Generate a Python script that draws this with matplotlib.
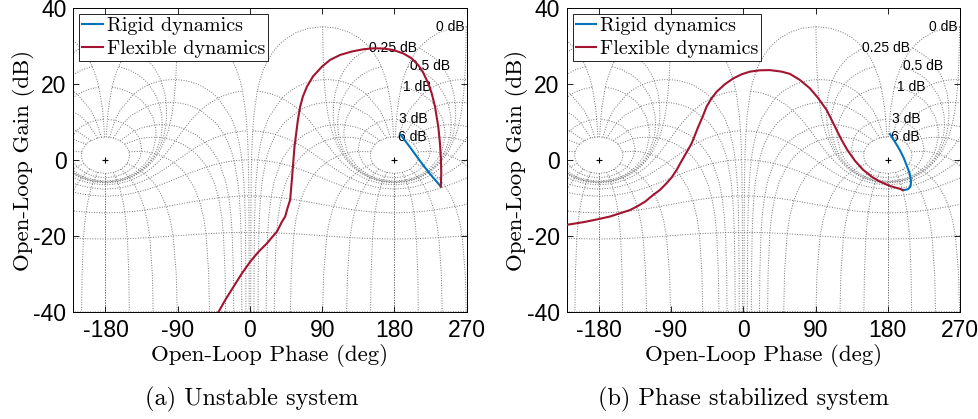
import numpy as np
import matplotlib
matplotlib.use("Agg")
import matplotlib.pyplot as plt
from matplotlib.lines import Line2D

plt.rcParams["axes.unicode_minus"] = False

SERIF = "cmr10"
SANS = "Liberation Sans"
COL_RIGID = "#0072BD"
COL_FLEX = "#A2142F"
GRID_COL = "0.45"

# open-loop phase (deg) / gain (dB) samples of each response
unstable_flex_phase = [-39.0, -30.7, -20.4, -10.0, 0.4, 10.7, 21.1, 27.4, 33.6, 39.8,
                       43.9, 46.8, 50.1, 52.2, 54.2, 55.5, 57.6, 59.7, 62.6, 65.9,
                       70.9, 78.4, 89.6, 99.9, 112.3, 126.9, 141.3, 153.7, 166.2, 178.6,
                       191.0, 201.5, 209.7, 215.2, 222.1, 226.4, 230.5, 234.6, 236.7,
                       238.0, 238.3, 237.8]
unstable_flex_gain = [-40.0, -36.9, -33.4, -29.9, -26.8, -24.2, -22.0, -20.4, -18.9, -16.3,
                      -14.9, -12.7, -10.5, -5.3, 0.0, 3.5, 7.0, 10.5, 14.1, 16.7,
                      19.3, 22.0, 24.6, 26.4, 27.7, 28.6, 29.2, 29.45, 29.4, 29.0,
                      28.1, 26.8, 25.0, 23.3, 20.2, 17.6, 14.1, 8.8, 4.4,
                      0.0, -3.5, -7.0]
unstable_rigid_phase = [187.0, 200.0, 212.0, 224.0, 237.8]
unstable_rigid_gain = [6.85, 3.2, -0.3, -3.6, -7.0]

stable_flex_phase = [-220.0, -199.2, -180.6, -166.0, -153.5, -141.1, -132.8, -122.4, -112.1,
                     -103.8, -95.4, -89.2, -82.9, -78.0, -72.6, -68.5, -64.3, -60.1, -56.0,
                     -50.6, -45.6, -39.4, -33.1, -22.8, -12.5, -2.0, 8.3, 20.8, 33.2,
                     47.8, 58.2, 70.6, 83.0, 93.4, 103.8, 110.1, 116.3, 122.5, 129.5,
                     139.1, 149.4, 159.9, 170.2, 182.7, 195.1, 198.5]
stable_flex_gain = [-17.1, -16.4, -15.6, -14.9, -14.05, -13.2, -12.3, -11.0, -9.2,
                    -7.9, -6.1, -4.6, -2.6, -0.7, 1.3, 2.8, 4.4, 6.6, 8.8,
                    11.4, 14.1, 16.3, 18.0, 20.0, 21.5, 22.6, 23.3, 23.65, 23.7,
                    23.3, 22.7, 21.1, 18.9, 16.3, 13.2, 10.55, 7.9, 5.3, 2.7,
                    -0.2, -2.6, -4.4, -5.7, -6.85, -7.6, -7.9]
stable_rigid_phase = [182.7, 188.9, 195.1, 200.1, 204.2, 207.2, 208.8, 208.8, 207.6,
                      205.5, 201.4, 198.5]
stable_rigid_gain = [6.86, 4.8, 2.6, 0.45, -1.8, -3.5, -5.3, -6.3, -7.2,
                     -7.65, -7.9, -7.9]

# Nichols chart grid values (closed-loop phase and magnitude)
iso_phase = [1, 5, 10, 20, 30, 50, 90, 120, 150, 180]
iso_phase_gains = [6, 3, 2, 1, .75, .5, .4, .3, .25, .2, .15, .1, .05, 0, -.05, -.1, -.15,
                   -.2, -.25, -.3, -.4, -.5, -.75, -1, -2, -3, -4, -5, -6, -9, -12, -16,
                   -20, -30, -40, -50, -60, -70, -80, -90, -100, -110, -120, -130, -140,
                   -150, -160, -170, -180, -190, -200, -210, -220, -230, -240, -250]
iso_gain = [6, 3, 1, .5, .25, 0, -1, -3, -6, -12, -20, -40]
iso_gain_phases = [1, 2, 3, 4, 5, 7.5, 10, 15, 20, 25, 30, 45, 60, 75, 90, 105, 120, 135,
                   150, 175, 180]
label_gains = ["6 dB", "3 dB", "1 dB", "0.5 dB", "0.25 dB", "0 dB"]


def open_loop(cl_gain_db, cl_phase_deg):
    z = 10 ** (np.asarray(cl_gain_db) / 20) * np.exp(1j * np.deg2rad(cl_phase_deg))
    h = z / (1 - z)
    return np.mod(np.degrees(np.angle(h)) + 360, 360), 20 * np.log10(np.abs(h))


def draw_ngrid(ax):
    kw = dict(color=GRID_COL, ls=(0, (1, 1.6)), lw=0.7, zorder=1)
    p, g = np.meshgrid(iso_phase, iso_phase_gains)
    ph, gh = open_loop(g, p)
    ph = np.hstack([ph, 360 - ph])
    gh = np.hstack([gh, gh])
    p2 = np.array(iso_gain_phases, float)
    p2 = np.concatenate([p2, (360 - p2[:-1])[::-1]])
    g, p = np.meshgrid(iso_gain, p2)
    ph2, gh2 = open_loop(g, p)
    for shift in (-360, 0):
        for k in range(ph.shape[1]):
            ax.plot(ph[:, k] + shift, gh[:, k], **kw)
        for k in range(ph2.shape[1]):
            ax.plot(ph2[:, k] + shift, gh2[:, k], **kw)
        ax.plot(180 + shift, 0, "+", color="k", ms=5, mew=0.8, zorder=2)
    for k, txt in enumerate(label_gains):
        x, y = ph2[-1, k], gh2[-1, k]
        if iso_gain[k] <= 0.25:
            ax.text(x - 2.5, y, txt, ha="right", va="center", fontsize=10,
                    family=SANS, zorder=3)
        else:
            ax.text(x + 3, y, txt, ha="left", va="center", fontsize=10,
                    family=SANS, zorder=3)


fig = plt.figure(figsize=(9.79, 4.19), dpi=100)
fig.patch.set_facecolor("white")
panels = [
    (0.0749, unstable_rigid_phase, unstable_rigid_gain, unstable_flex_phase,
     unstable_flex_gain, "(a) Unstable system", 251.7),
    (0.5788, stable_rigid_phase, stable_rigid_gain, stable_flex_phase,
     stable_flex_gain, "(b) Phase stabilized system", 744.0),
]
for x0, rp, rg, fp, fg, caption, cx in panels:
    ax = fig.add_axes([x0, 0.2561, 0.4018, 0.7241])
    draw_ngrid(ax)
    ax.plot(rp, rg, color=COL_RIGID, lw=1.5, zorder=4)
    ax.plot(fp, fg, color=COL_FLEX, lw=1.5, zorder=5)
    ax.set_xlim(-220, 270)
    ax.set_ylim(-40, 40)
    ax.set_xticks([-180, -90, 0, 90, 180, 270])
    ax.set_yticks([-40, -20, 0, 20, 40])
    ax.tick_params(direction="in", top=True, right=True, length=4, width=0.6,
                   labelsize=16.5, pad=5)
    for lab in ax.get_xticklabels() + ax.get_yticklabels():
        lab.set_family(SANS)
    for sp in ax.spines.values():
        sp.set_linewidth(0.7)
    ax.set_xlabel("Open-Loop Phase (deg)", family=SERIF, fontsize=16.5, labelpad=2)
    ax.set_ylabel("Open-Loop Gain (dB)", family=SERIF, fontsize=16.5, labelpad=-1)
    handles = [Line2D([], [], color=COL_RIGID, lw=1.5), Line2D([], [], color=COL_FLEX, lw=1.5)]
    leg = ax.legend(handles, ["Rigid dynamics", "Flexible dynamics"], loc="upper left",
                    prop={"family": SERIF, "size": 14.5}, fancybox=False, framealpha=1,
                    edgecolor="k", handlelength=1.0, handletextpad=0.2,
                    borderaxespad=0.3, borderpad=0.15, labelspacing=0.2)
    leg.get_frame().set_linewidth(0.6)
    leg.set_zorder(6)
    fig.text(cx / 979, 1 - 399 / 419, caption, family=SERIF, fontsize=17.5,
             ha="center", va="center")

fig.savefig("out.png", dpi=100, facecolor="white")
